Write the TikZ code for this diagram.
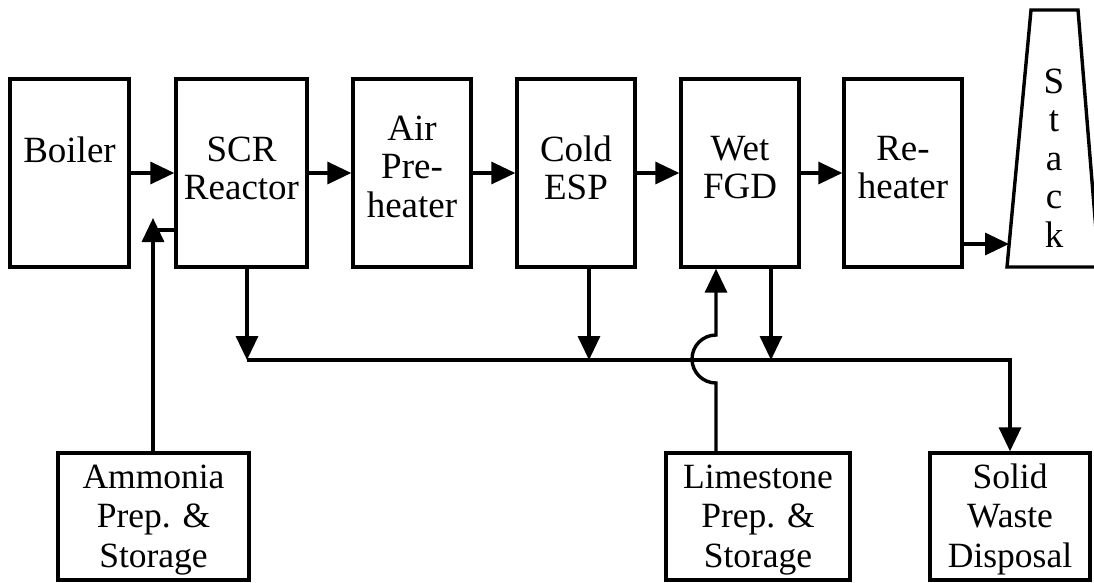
\documentclass[tikz,border=0pt]{standalone}
\usepackage{fontspec}
\setmainfont{Liberation Serif}
\usetikzlibrary{arrows.meta}
\newcommand\mlines[1]{\begin{tabular}[t]{@{}c@{}}#1\end{tabular}}
\tikzset{
  box/.style={draw, rectangle, line width=3.4pt, inner sep=0pt},
  topbox/.style={box, minimum width=#1, minimum height=188pt},
  botbox/.style={box, minimum height=127pt, minimum width=#1},
  conn/.style={line width=3.4pt},
  flow/.style={conn, -{Triangle[length=24pt,width=22pt]}},
  toplbl/.style={inner sep=0pt, anchor=base, font=\fontsize{37}{38.5}\selectfont},
  botlbl/.style={inner sep=0pt, anchor=base, font=\fontsize{35.5}{39.5}\selectfont},
}
\begin{document}
\begin{tikzpicture}[x=1pt,y=-1pt]
\useasboundingbox (0,0) rectangle (1094,582);
\clip (0,0) rectangle (1094,582);
% top row boxes
\node[topbox=119pt] (boiler) at (69.5,173) {};
\node[topbox=131pt] (scr) at (241.5,173) {};
\node[topbox=118pt] (air) at (412,173) {};
\node[topbox=118pt] (esp) at (576,173) {};
\node[topbox=118pt] (fgd) at (740,173) {};
\node[topbox=118pt] (reh) at (903,173) {};
% stack
\draw[line width=3.4pt, line join=miter] (1031,10) -- (1078,10) -- (1099,267) -- (1007,267) -- cycle;
% bottom boxes
\node[botbox=191pt] (amm) at (153.5,516.5) {};
\node[botbox=184pt] (lime) at (758,516.5) {};
\node[botbox=160pt] (solid) at (1010,516.5) {};
% labels
\node[toplbl] (boilerT) at (69.5,162) {Boiler};
\node[toplbl] (scrT) at (241.5,161) {\mlines{SCR\\Reactor}};
\node[toplbl] (airT) at (412,140) {\mlines{Air\\Pre-\\heater}};
\node[toplbl] (espT) at (576,161) {\mlines{Cold\\ESP}};
\node[toplbl] (fgdT) at (740,160) {\mlines{Wet\\FGD}};
\node[toplbl] (rehT) at (903,160) {\mlines{Re-\\heater}};
\node[toplbl] (stackT) at (1054,93) {\mlines{S\\t\\a\\c\\k}};
\node[botlbl] (ammT) at (153.5,488) {\mlines{Ammonia\\Prep. \&\\Storage}};
\node[botlbl] (limeT) at (758,488) {\mlines{Limestone\\Prep. \&\\Storage}};
\node[botlbl] (solidT) at (1010,488) {\mlines{Solid\\Waste\\Disposal}};
% main flow
\draw[flow] (boiler) -- (scr);
\draw[flow] (scr) -- (air);
\draw[flow] (air) -- (esp);
\draw[flow] (esp) -- (fgd);
\draw[flow] (fgd) -- (reh);
\coordinate (stackin) at (1009,244);
\draw[flow] (reh.east |- stackin) -- (stackin);
% ammonia feed
\coordinate (ammtip) at (153,218);
\coordinate (ammjoin) at (153,230);
\draw[flow] (amm.north -| ammtip) -- (ammtip);
\draw[conn] (ammjoin) -- (scr.west |- ammjoin);
% waste collection bus
\coordinate (bus1) at (247,360);
\coordinate (bus2) at (589,360);
\coordinate (bus3) at (771,360);
\coordinate (busend) at (1010,360);
\draw[flow] (scr.south -| bus1) -- (bus1);
\draw[flow] (esp.south -| bus2) -- (bus2);
\draw[flow] (fgd.south -| bus3) -- (bus3);
\draw[flow] (bus1) -- (busend) -- (solid.north);
% limestone feed with jump over bus
\coordinate (jlo) at (716,383);
\coordinate (jmid) at (692,359);
\coordinate (jhi) at (716,335);
\draw[flow] (lime.north -| jlo) -- (jlo)
  .. controls (702.75,383) and (692,372.25) .. (jmid)
  .. controls (692,345.75) and (702.75,335) .. (jhi)
  -- (fgd.south -| jhi);
\end{tikzpicture}
\end{document}
